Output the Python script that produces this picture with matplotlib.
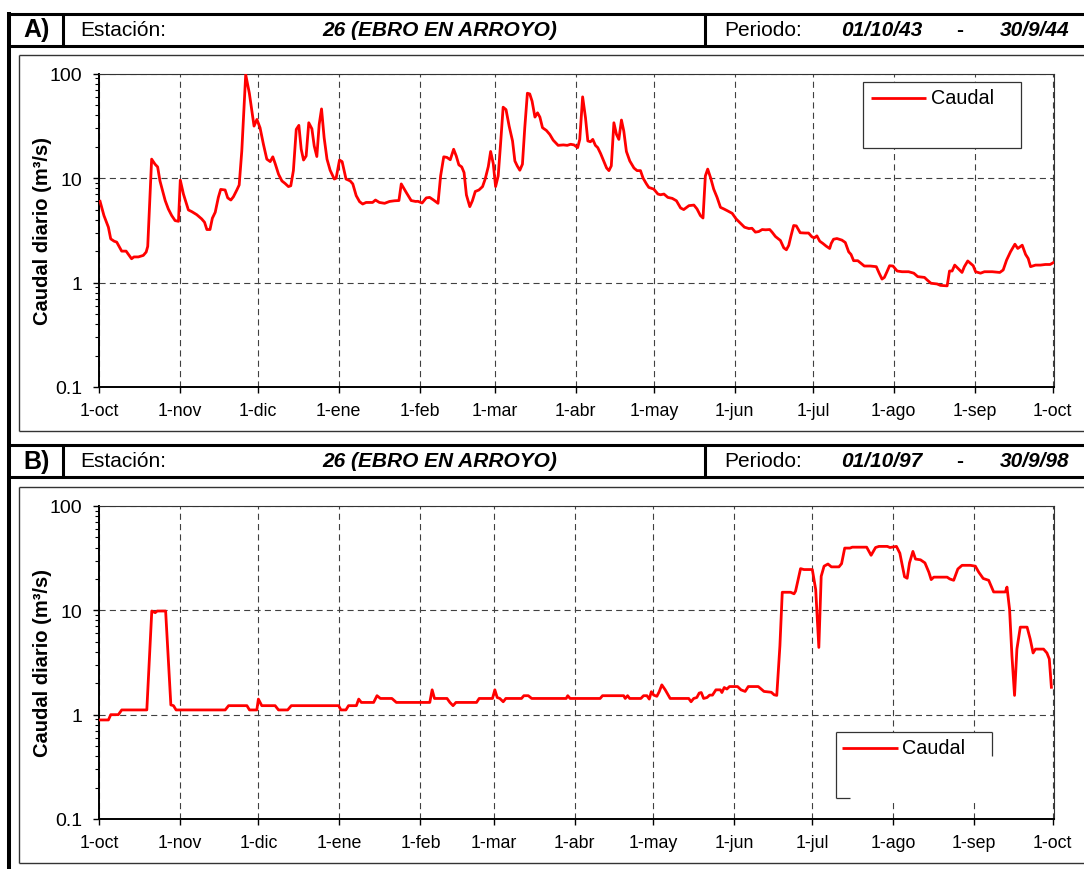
import matplotlib
matplotlib.use('Agg')
import matplotlib.pyplot as plt
from matplotlib.lines import Line2D
from matplotlib.patches import Rectangle
from matplotlib.ticker import FixedLocator, FixedFormatter, LogLocator, NullFormatter
import pandas as pd

plt.rcParams['font.family'] = ['Liberation Sans', 'DejaVu Sans']

# ---------------- data ----------------
month_labels = ['1-oct', '1-nov', '1-dic', '1-ene', '1-feb', '1-mar', '1-abr',
                '1-may', '1-jun', '1-jul', '1-ago', '1-sep', '1-oct']
ytick_vals = [0.1, 1, 10, 100]
ytick_labels = ['0.1', '1', '10', '100']
station = '26 (EBRO EN ARROYO)'
series_name = 'Caudal'
ylabel = 'Caudal diario (m³/s)'

start_a, end_a = '1943-10-01', '1944-10-01'
period_a = ('01/10/43', '30/9/44')
start_b, end_b = '1997-10-01', '1998-10-01'
period_b = ('01/10/97', '30/9/98')

# days since 1-oct, daily flow (m3/s) -- panel A (1943-44)
days_a = [0.4, 1.9, 3.6, 4.5, 5.8, 6.8, 8.7, 10.4, 11.3, 12.5, 13.4, 15.1, 17.0, 18.1, 18.7,
          20.2, 21.5, 22.5, 23.4, 25.4, 26.6, 27.9, 29.2, 30.5, 31.2, 32.4, 34.3, 35.6, 37.5,
          39.4, 40.5, 41.4, 42.6, 43.5, 44.6, 45.8, 46.7, 48.4, 49.4, 50.6, 51.6, 52.9, 53.8,
          54.8, 56.3, 57.7, 59.5, 60.6, 61.8, 63.1, 64.4, 65.7, 66.7, 67.6, 68.9, 70.2, 71.4,
          72.7, 73.6, 74.6, 75.7, 76.7, 77.6, 78.5, 79.5, 80.5, 81.7, 82.6, 83.6, 84.5, 85.4,
          86.4, 87.5, 88.7, 90.3, 91.0, 92.3, 93.3, 94.8, 96.4, 97.4, 98.7, 100.0, 101.2,
          102.5, 105.0, 106.1, 107.6, 109.6, 111.5, 113.4, 115.1, 116.0, 117.9, 119.8, 121.5,
          122.4, 124.0, 125.6, 126.9, 128.4, 130.1, 131.1, 132.3, 133.5, 134.8, 136.1, 137.1,
          138.1, 139.2, 140.1, 141.0, 142.3, 143.3, 144.4, 145.8, 147.2, 148.2, 149.4, 150.3,
          151.3, 152.2, 153.2, 154.1, 155.1, 156.2, 157.4, 158.7, 159.6, 160.5, 161.5, 162.5,
          163.4, 164.4, 165.3, 166.2, 167.3, 168.3, 169.2, 170.2, 171.7, 173.0, 174.3, 176.2,
          178.2, 179.7, 181.0, 182.3, 183.7, 184.5, 185.6, 186.7, 187.6, 188.6, 189.5, 190.5,
          191.4, 192.5, 193.7, 194.8, 195.7, 196.6, 197.6, 198.6, 199.5, 200.5, 201.4, 202.4,
          203.7, 205.3, 206.5, 207.8, 208.8, 210.1, 211.0, 212.9, 214.5, 215.5, 216.8, 218.3,
          220.0, 221.6, 223.2, 224.4, 226.4, 228.3, 229.5, 230.8, 231.8, 232.7, 233.6, 234.7,
          235.9, 237.2, 238.5, 239.8, 241.1, 243.0, 244.5, 246.2, 247.7, 249.4, 250.6, 251.9,
          253.2, 254.5, 255.8, 257.4, 258.3, 259.6, 261.5, 262.8, 263.8, 264.7, 265.6, 266.6,
          267.6, 269.1, 271.0, 272.3, 273.6, 274.5, 275.5, 276.6, 277.8, 279.1, 280.4, 281.0,
          281.9, 283.2, 285.1, 286.4, 287.7, 288.6, 289.6, 291.2, 292.4, 293.7, 296.0, 298.3,
          299.4, 300.5, 301.4, 302.4, 303.4, 304.7, 306.3, 308.2, 310.7, 312.7, 314.2, 316.8,
          317.8, 319.3, 321.6, 322.9, 325.5, 326.4, 327.4, 328.4, 329.6, 331.2, 332.1, 333.4,
          334.4, 335.5, 336.4, 338.3, 339.8, 342.8, 345.7, 347.0, 348.3, 349.8, 351.5, 352.6,
          354.3, 355.6, 356.6, 357.5, 359.4, 361.3, 363.2, 365.0, 366.4]
flow_a = [6.0, 4.38, 3.39, 2.62, 2.49, 2.44, 2.0, 2.0, 1.86, 1.69, 1.76, 1.76, 1.82, 1.96, 2.22,
          15.2, 13.6, 12.8, 9.4, 6.1, 5.07, 4.38, 3.92, 3.86, 9.57, 7.04, 4.96, 4.78, 4.47,
          4.07, 3.78, 3.22, 3.22, 4.13, 4.71, 6.54, 7.8, 7.7, 6.47, 6.17, 6.64, 7.7, 8.6,
          18.2, 98.0, 65.0, 31.5, 36.5, 30.4, 21.1, 15.2, 14.4, 16.0, 13.8, 10.9, 9.4, 8.9,
          8.3, 8.45, 11.8, 29.3, 32.0, 18.9, 14.9, 16.3, 33.9, 29.7, 20.3, 16.1, 32.7, 46.0,
          24.4, 15.2, 11.9, 9.8, 10.0, 14.9, 14.4, 9.8, 9.4, 8.8, 6.8, 5.95, 5.65,
          5.85, 5.85, 6.17, 5.85, 5.74, 5.98, 6.07, 6.1, 8.8, 7.3, 6.1, 5.98,
          6.0, 5.78, 6.47, 6.54, 6.17, 5.74, 10.5, 16.0, 15.8, 15.0, 18.9, 16.3,
          13.4, 12.8, 11.3, 6.9, 5.33, 6.07, 7.45, 7.7, 8.3, 9.8, 12.9, 18.0,
          13.8, 8.3, 10.5, 21.1, 47.8, 45.3, 31.5, 22.7, 14.6, 13.1, 11.9, 13.6,
          30.4, 65.0, 64.0, 54.6, 38.4, 42.2, 38.4, 30.4, 28.6, 26.2, 23.1, 20.6,
          20.8, 20.6, 21.1, 20.8, 19.6, 23.5, 60.0, 37.9, 22.7, 22.3, 23.5, 20.6,
          19.6, 17.2, 14.6, 12.5, 11.8, 13.1, 33.9, 26.2, 23.5, 36.0, 28.2, 18.0,
          14.6, 12.5, 11.8, 11.8, 10.0, 8.8, 8.15, 7.85, 7.04, 6.93, 7.04, 6.54,
          6.4, 6.07, 5.18, 5.0, 5.45, 5.52, 5.07, 4.38, 4.15, 10.5, 12.2, 10.1,
          7.85, 6.54, 5.25, 5.07, 4.88, 4.6, 4.07, 3.7, 3.39, 3.29, 3.31, 3.04,
          3.08, 3.22, 3.2, 3.22, 3.04, 2.76, 2.53, 2.15, 2.06, 2.27, 2.82, 3.52,
          3.49, 3.0, 2.98, 2.98, 2.74, 2.68, 2.8, 2.49, 2.37, 2.23, 2.12, 2.37,
          2.6, 2.64, 2.55, 2.42, 1.97, 1.86, 1.62, 1.62, 1.53, 1.44, 1.44, 1.42,
          1.23, 1.08, 1.12, 1.27, 1.45, 1.44, 1.29, 1.27, 1.27, 1.23, 1.14, 1.12,
          1.06, 0.985, 0.97, 0.94, 0.93, 1.29, 1.29, 1.47, 1.37, 1.25, 1.42, 1.61,
          1.53, 1.45, 1.27, 1.23, 1.27, 1.27, 1.25, 1.32, 1.64, 1.97, 2.33, 2.12,
          2.28, 1.86, 1.70, 1.42, 1.47, 1.47, 1.49, 1.49, 1.56]

# panel B (1997-98)
days_b = [0.4, 3.6, 4.5, 7.4, 8.7, 18.3, 20.2, 21.5, 22.3, 25.5, 27.5, 28.5, 29.5, 48.3, 49.6,
          56.6, 57.6, 60.4, 61.0, 62.3, 67.4, 68.7, 72.2, 73.6, 91.7, 92.6, 94.5, 95.5, 98.5,
          99.4, 100.4, 105.1, 106.4, 107.7, 112.1, 113.8, 126.6, 127.5, 128.4, 133.2, 134.3,
          135.5, 136.6, 144.5, 145.5, 150.6, 151.5, 152.4, 153.4, 154.7, 155.7, 161.7, 162.6,
          164.3, 165.6, 178.8, 179.4, 180.3, 191.8, 192.7, 200.8, 201.4, 202.3, 203.1, 207.4,
          208.4, 209.7, 210.6, 211.4, 212.3, 213.5, 214.4, 215.4, 216.7, 218.6, 225.7, 226.6,
          227.6, 228.8, 229.7, 230.5, 231.4, 232.7, 233.7, 234.8, 236.1, 237.8, 238.4, 239.3,
          240.3, 241.3, 244.4, 245.7, 247.3, 248.5, 252.3, 254.5, 257.3, 258.4, 259.4, 260.6,
          261.5, 264.7, 266.0, 266.6, 268.5, 269.8, 273.0, 274.3, 275.5, 276.4, 277.5, 279.0,
          280.3, 283.2, 284.2, 285.4, 287.4, 288.3, 293.8, 295.5, 297.2, 298.5, 301.7, 302.7,
          305.2, 306.5, 308.3, 309.3, 310.2, 311.5, 312.5, 314.4, 316.1, 317.6, 318.5, 319.5,
          324.6, 325.6, 327.1, 328.7, 330.3, 333.5, 335.4, 336.7, 338.4, 340.5, 342.4, 346.9,
          347.5, 348.5, 349.4, 350.4, 351.3, 352.6, 355.2, 356.4, 357.5, 358.4, 361.5, 362.8,
          363.7, 364.5]
flow_b = [0.89, 0.89, 1.0, 1.0, 1.11, 1.11, 9.85, 9.5, 9.85, 9.85, 1.24, 1.22, 1.11, 1.11, 1.22,
          1.22, 1.11, 1.11, 1.41, 1.22, 1.22, 1.11, 1.11, 1.22, 1.22, 1.11, 1.11, 1.22, 1.22,
          1.41, 1.31, 1.31, 1.52, 1.43, 1.43, 1.31, 1.31, 1.73, 1.43, 1.43, 1.31,
          1.22, 1.31, 1.31, 1.43, 1.43, 1.73, 1.46, 1.43, 1.33, 1.43, 1.43, 1.52,
          1.52, 1.43, 1.43, 1.52, 1.43, 1.43, 1.52, 1.52, 1.43, 1.52, 1.43, 1.43,
          1.52, 1.52, 1.41, 1.66, 1.54, 1.50, 1.66, 1.93, 1.73, 1.43, 1.43, 1.33,
          1.43, 1.46, 1.61, 1.63, 1.43, 1.46, 1.54, 1.54, 1.73, 1.73, 1.63, 1.82,
          1.76, 1.86, 1.86, 1.73, 1.67, 1.86, 1.86, 1.67, 1.64, 1.55, 1.53, 4.57,
          14.9, 14.9, 14.4, 15.3, 25.1, 24.6, 24.6, 15.8, 4.41, 21.2, 26.5, 27.8,
          26.1, 26.1, 28.0, 39.5, 39.5, 40.3, 40.3, 33.7, 40.0, 41.0, 41.0, 40.0,
          41.0, 35.3, 21.0, 20.3, 28.5, 36.7, 31.0, 30.5, 28.5, 23.2, 19.7, 20.8,
          20.8, 20.0, 19.4, 24.9, 27.0, 27.0, 26.5, 23.2, 20.2, 19.4, 15.0, 15.0,
          16.7, 10.2, 3.67, 1.53, 4.25, 6.9, 6.9, 5.3, 3.9, 4.25, 4.25, 3.9,
          3.42, 1.83]

# ---------------- figure ----------------
W, H = 1084, 870
fig = plt.figure(figsize=(W / 100, H / 100), dpi=100)


def fx(x):
    return x / W


def fy(y):
    return 1 - y / H


def fline(xs, ys, lw, color='black', **kw):
    fig.add_artist(Line2D([fx(v) for v in xs], [fy(v) for v in ys], lw=lw, color=color,
                          transform=fig.transFigure, solid_capstyle='butt', **kw))


RED = '#ff0000'
GRID = '#404040'


def header(ytop, ybot, letter, period):
    yc = (ytop + ybot) / 2
    fline([9, W + 5], [ytop, ytop], 2.2)
    fline([9, W + 5], [ybot, ybot], 2.2)
    fline([63, 63], [ytop, ybot], 2.2)
    fline([705, 705], [ytop, ybot], 2.2)
    fig.text(fx(23), fy(yc), letter, fontsize=18, fontweight='bold', va='center', ha='left')
    fig.text(fx(80), fy(yc), 'Estación:', fontsize=15, va='center', ha='left')
    fig.text(fx(440), fy(yc), station, fontsize=15, fontweight='bold', style='italic',
             va='center', ha='center')
    fig.text(fx(724), fy(yc), 'Periodo:', fontsize=15, va='center', ha='left')
    fig.text(fx(882), fy(yc), period[0], fontsize=15, fontweight='bold', style='italic',
             va='center', ha='center')
    fig.text(fx(960), fy(yc), '-', fontsize=15, fontweight='bold', va='center', ha='center')
    fig.text(fx(1035), fy(yc), period[1], fontsize=15, fontweight='bold', style='italic',
             va='center', ha='center')


def chart_box(ytop, ybot):
    fline([19, W + 5], [ytop, ytop], 1.0, color='#333333')
    fline([19, 19], [ytop, ybot], 1.0, color='#333333')
    fline([19, W + 5], [ybot, ybot], 1.0, color='#333333')


def panel(ytop_px, ybot_px, days, flow, start, end):
    ax = fig.add_axes([fx(99), fy(ybot_px), fx(1054) - fx(99), (ybot_px - ytop_px) / H])
    month_starts = pd.date_range(start, end, freq='MS')
    month_pos = [(d - pd.Timestamp(start)).days for d in month_starts]
    ax.plot(days, flow, color=RED, lw=2.0, solid_joinstyle='round', zorder=3, clip_on=True)
    ax.set_yscale('log')
    ax.set_ylim(ytick_vals[0], ytick_vals[-1])
    ax.set_xlim(0, month_pos[-1] + 0.5)
    ax.xaxis.set_major_locator(FixedLocator(month_pos))
    ax.xaxis.set_major_formatter(FixedFormatter(month_labels))
    ax.yaxis.set_major_locator(FixedLocator(ytick_vals))
    ax.yaxis.set_major_formatter(FixedFormatter(ytick_labels))
    ax.yaxis.set_minor_locator(LogLocator(base=10, subs=range(2, 10)))
    ax.yaxis.set_minor_formatter(NullFormatter())
    ax.tick_params(axis='y', which='major', direction='out', length=4, width=1.0,
                   labelsize=14, pad=8, right=False)
    ax.tick_params(axis='y', which='minor', direction='out', length=3, width=0.8, right=False)
    ax.tick_params(axis='x', which='major', direction='out', length=4, width=1.0,
                   labelsize=12.8, pad=7, top=False)
    ax.tick_params(axis='x', which='minor', bottom=False, top=False)
    ax.grid(True, which='major', color=GRID, lw=0.8, linestyle=(0, (5.5, 3.8)))
    for s in ['left', 'bottom']:
        ax.spines[s].set_linewidth(1.4)
        ax.spines[s].set_color('black')
    for s in ['top', 'right']:
        ax.spines[s].set_linewidth(0.8)
        ax.spines[s].set_color('#333333')
    ax.set_ylabel(ylabel, fontsize=14.5, fontweight='bold')
    ax.yaxis.label.set_va('center')
    ax.yaxis.set_label_coords((43 - 99) / (1054 - 99), 0.5)
    return ax


# Panel A
header(14.5, 46.5, 'A)', period_a)
chart_box(56, 432)
panel(74.7, 388, days_a, flow_a, start_a, end_a)

# Panel B
header(446, 478, 'B)', period_b)
chart_box(488, 864)
panel(507, 820, days_b, flow_b, start_b, end_b)

# left thick bar
fline([9, 9], [13, H + 2], 2.9)

# legend A (full box)
fig.add_artist(Rectangle((fx(863), fy(149)), fx(1021) - fx(863), (149 - 83) / H,
                         transform=fig.transFigure, facecolor='white', edgecolor='#333333',
                         lw=0.9))
fline([871, 926], [99, 99], 2.0, color=RED)
fig.text(fx(931), fy(99), series_name, fontsize=14.3, va='center', ha='left')

# legend B (partially drawn box)
fig.add_artist(Rectangle((fx(836), fy(800)), fx(993) - fx(836), (800 - 733) / H,
                         transform=fig.transFigure, facecolor='white', edgecolor='none'))
fline([836, 992], [733, 733], 0.9, color='#333333')
fline([836, 836], [733, 799], 0.9, color='#333333')
fline([992, 992], [733, 757], 0.9, color='#333333')
fline([836, 850], [799, 799], 0.9, color='#333333')
fline([842, 898], [749, 749], 2.0, color=RED)
fig.text(fx(902), fy(749), series_name, fontsize=14.3, va='center', ha='left')

fig.savefig('out.png', dpi=100, facecolor='white')
